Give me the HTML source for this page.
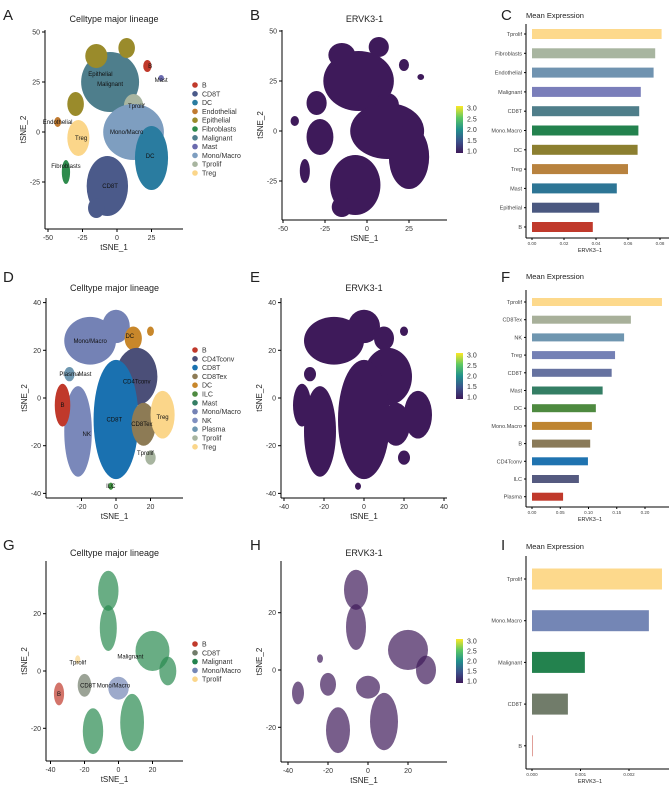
<!DOCTYPE html>
<html><head><meta charset="utf-8">
<style>
body{margin:0;background:#fff;}
svg{display:block;font-family:"Liberation Sans",Arial,sans-serif;}
</style></head>
<body>
<svg id="fig" width="669" height="785" viewBox="0 0 669 785" xmlns="http://www.w3.org/2000/svg"></svg>
<script>
// ---------- Bar chart data ----------
const cCats=["Tprolif","Fibroblasts","Endothelial","Malignant","CD8T","Mono.Macro","DC","Treg","Mast","Epithelial","B"];
const cVals=[0.081,0.077,0.076,0.068,0.067,0.0665,0.066,0.060,0.053,0.042,0.038];
const cColors=["#FDD98C","#A8B5A0","#7093B0","#7A7EBA","#4F7E8A","#23824E","#8C7F30","#B8823E","#2D7595","#4A5880","#C0392B"];
const cTicks=[0,0.02,0.04,0.06,0.08];
const cTickLabels=["0.00","0.02","0.04","0.06","0.08"];

const fCats=["Tprolif","CD8Tex","NK","Treg","CD8T","Mast","DC","Mono.Macro","B","CD4Tconv","ILC","Plasma"];
const fVals=[0.230,0.175,0.163,0.147,0.141,0.125,0.113,0.106,0.103,0.099,0.083,0.055];
const fColors=["#FDD98C","#A8B09A","#6F96B0","#7480B5","#6672A0","#347E64","#4E8A40","#BE8530","#8A7A58","#1F73B0","#555A80","#C0392B"];
const fTicks=[0,0.05,0.10,0.15,0.20];
const fTickLabels=["0.00","0.05","0.10","0.15","0.20"];

const iCats=["Tprolif","Mono.Macro","Malignant","CD8T","B"];
const iVals=[0.00268,0.00241,0.00109,0.00074,0.00001];
const iColors=["#FDD98C","#7486B5","#23824E","#717C6A","#C0392B"];
const iTicks=[0,0.001,0.002];
const iTickLabels=["0.000","0.001","0.002"];

// ---------- Scatter cluster data (data units: cx, cy, rx, ry) ----------
const aNames=["Malignant","Epithelial","Epithelial","Epithelial","B","Mast","Tprolif","Mono/Macro","DC","Treg","Fibroblasts","Endothelial","CD8T","CD8T"];
const aCX=[-5,-15,7,-30,22,32,12,12,25,-28,-37,-43,-7,-15];
const aCY=[25,38,42,14,33,27,13,0,-13,-3,-20,5,-27,-38];
const aRX=[21,8,6,6,3,2,7,22,12,8,3,2.5,15,6];
const aRY=[15,6,5,6,3,1.5,6,14,16,9,6,2.5,15,5];
const aCol=["#4E7E8C","#9A8B2B","#9A8B2B","#9A8B2B","#C0392B","#6A6AAE","#A8B5A0","#7E9EC0","#2A7CA0","#FBD68A","#2E8B4C","#C07A30","#4B5A8A","#4B5A8A"];
const aLegend=["B","CD8T","DC","Endothelial","Epithelial","Fibroblasts","Malignant","Mast","Mono/Macro","Tprolif","Treg"];
const aLegCol=["#C0392B","#4B5A8A","#2A7CA0","#C07A30","#9A8B2B","#2E8B4C","#4E7E8C","#6A6AAE","#7E9EC0","#A8B5A0","#FBD68A"];
const aLabels=["Epithelial","Malignant","Mast","B","Tprolif","Mono/Macro","DC","Treg","Fibroblasts","CD8T","Endothelial"];
const aLX=[-12,-5,32,24,14,7,24,-26,-37,-5,-43];
const aLY=[29,24,26,33,13,0,-12,-3,-17,-27,5];

const dNames=["Mono/Macro","Mono/Macro","NK","DC","Plasma","B","CD4Tconv","CD8T","CD8Tex","Treg","Tprolif","ILC","DC"];
const dCX=[-15,0,-22,10,-27,-31,12,0,16,27,20,-3,20];
const dCY=[24,30,-14,25,10,-3,9,-9,-11,-7,-25,-37,28];
const dRX=[15,8,8,5,3,4.5,12,13,7,7,3,1.5,2];
const dRY=[10,7,19,5,3,9,12,25,9,10,3,1.5,2];
const dCol=["#7482B5","#7482B5","#7A88BA","#C8872B","#6E97B0","#C0392B","#4B4F78","#1A71B0","#8D7B55","#FBD68A","#A8B5A0","#3E8E3E","#C8872B"];
const dLegend=["B","CD4Tconv","CD8T","CD8Tex","DC","ILC","Mast","Mono/Macro","NK","Plasma","Tprolif","Treg"];
const dLegCol=["#C0392B","#4B4F78","#1A71B0","#8D7B55","#C8872B","#4E8A40","#347E64","#7482B5","#8090C0","#6E97B0","#A8B5A0","#FBD68A"];
const dLabels=["Mono/Macro","DC","Plasma","Mast","CD4Tconv","B","Treg","CD8T","CD8Tex","NK","Tprolif","ILC"];
const dLX=[-15,8,-27,-18,12,-31,27,-1,15,-17,17,-3];
const dLY=[24,26,10,10,7,-3,-8,-9,-11,-15,-23,-37];

const gNames=["Malignant","Malignant","Malignant","Malignant","Malignant","Malignant","B","CD8T","Mono/Macro","Tprolif"];
const gCX=[-6,-6,20,29,-15,8,-35,-20,0,-24];
const gCY=[28,15,7,0,-21,-18,-8,-5,-6,4];
const gRX=[6,5,10,5,6,7,3,4,6,1.5];
const gRY=[7,8,7,5,8,10,4,4,4,1.5];
const gCol=["#2A8A50","#2A8A50","#2A8A50","#2A8A50","#2A8A50","#2A8A50","#C0392B","#717C6A","#7486B5","#FBD68A"];
const gLegend=["B","CD8T","Malignant","Mono/Macro","Tprolif"];
const gLegCol=["#C0392B","#717C6A","#23824E","#7486B5","#FBD68A"];
const gLabels=["Tprolif","Malignant","CD8T","Mono/Macro","B"];
const gLX=[-24,7,-18,-3,-35];
const gLY=[3,5,-5,-5,-8];

const svg=document.getElementById('fig');
const NS="http://www.w3.org/2000/svg";
function el(tag,attrs,parent){const e=document.createElementNS(NS,tag);for(const k in attrs)e.setAttribute(k,attrs[k]);(parent||svg).appendChild(e);return e;}
function txt(s,x,y,size,anchor,parent,extra){const t=el('text',Object.assign({x:x,y:y,'font-size':size,'text-anchor':anchor||'start',fill:'#222'},extra||{}),parent);t.textContent=s;return t;}

const letters=[["A",3,20],["B",250,20],["C",501,20],["D",3,282],["E",250,282],["F",501,282],["G",3,550],["H",250,550],["I",501,550]];
letters.forEach(l=>{const t=txt(l[0],l[1],l[2],15,'start');

});

function scatter(o){
  const g=el('g',{});
  
  
  const sx=v=>o.x0+(v-o.xv0)*o.xs, sy=v=>o.y0-(v-o.yv0)*o.ys;
  for(let i=0;i<o.cx.length;i++){
    const e=el('ellipse',{cx:sx(o.cx[i]),cy:sy(o.cy[i]),rx:o.rx[i]*o.xs,ry:o.ry[i]*o.ys,fill:o.mono||o.col[i],opacity:o.op||1},g);
    
    
  }
  el('line',{x1:o.ax,y1:o.ytop,x2:o.ax,y2:o.ay,stroke:'#000','stroke-width':1},g);
  el('line',{x1:o.ax,y1:o.ay,x2:o.xright,y2:o.ay,stroke:'#000','stroke-width':1},g);
  o.xt.forEach(v=>{el('line',{x1:sx(v),y1:o.ay,x2:sx(v),y2:o.ay+3,stroke:'#000'},g);
    txt(String(v),sx(v),o.ay+11,7,'middle',g,{fill:'#333'});});
  o.yt.forEach(v=>{el('line',{x1:o.ax-3,y1:sy(v),x2:o.ax,y2:sy(v),stroke:'#000'},g);
    txt(String(v),o.ax-5,sy(v)+2.5,7,'end',g,{fill:'#333'});});
  const xt=txt('tSNE_1',(o.ax+o.xright)/2,o.ay+21,8,'middle',g);
  
  const yt=txt('tSNE_2',0,0,8,'middle',g,{transform:`translate(${o.ax-19},${(o.ytop+o.ay)/2}) rotate(-90)`});
  
  const tt=txt(o.title,(o.ax+o.xright)/2,o.titleY,9,'middle',g);
  
  if(o.labels){o.labels.forEach((s,i)=>txt(s,sx(o.lx[i]),sy(o.ly[i])+2,6,'middle',g,{fill:'#111'}));}
  if(o.legend){o.legend.forEach((s,i)=>{
    const y=o.legY+i*8.8;
    const c=el('circle',{cx:o.legX,cy:y,r:2.8,fill:o.legCol[i]},g);
    
    txt(s,o.legX+7,y+2.5,7,'start',g,{fill:'#333'});});}
  if(o.cbar){
    const id='vg'+o.name;
    const d=el('defs',{},g);const lg=el('linearGradient',{id:id,x1:0,y1:1,x2:0,y2:0},d);
    [["0","#3E1A5A"],["0.25","#3B528B"],["0.5","#21908C"],["0.75","#5DC863"],["1","#FDE725"]].forEach(s=>el('stop',{offset:s[0],'stop-color':s[1]},lg));
    const r=el('rect',{x:o.cbar[0],y:o.cbar[1],width:7,height:o.cbar[2],fill:`url(#${id})`},g);
    
    ["3.0","2.5","2.0","1.5","1.0"].forEach((s,i)=>txt(s,o.cbar[0]+11,o.cbar[1]+2+i*(o.cbar[2]-4)/4+2.5,7,'start',g,{fill:'#333'}));
  }
}

scatter({name:'scatter-a',names:aNames,cx:aCX,cy:aCY,rx:aRX,ry:aRY,col:aCol,x0:117,xv0:0,xs:34.5/25,y0:132,yv0:0,ys:50/25,
 ax:45,ay:229,ytop:30,xright:183,xt:[-50,-25,0,25],yt:[50,25,0,-25],title:'Celltype major lineage',titleY:22,
 labels:aLabels,lx:aLX,ly:aLY,legend:aLegend,legCol:aLegCol,legX:195,legY:85});
scatter({name:'scatter-b',names:aNames,cx:aCX,cy:aCY,rx:aRX,ry:aRY,col:aCol,mono:'#3E1A5A',x0:367,xv0:0,xs:42/25,y0:131,yv0:0,ys:50/25,
 ax:282,ay:220,ytop:30,xright:447,xt:[-50,-25,0,25],yt:[50,25,0,-25],title:'ERVK3-1',titleY:22,cbar:[456,106,47]});
scatter({name:'scatter-d',names:dNames,cx:dCX,cy:dCY,rx:dRX,ry:dRY,col:dCol,x0:116,xv0:0,xs:34.5/20,y0:398,yv0:0,ys:47.7/20,
 ax:46,ay:498,ytop:298,xright:183,xt:[-20,0,20],yt:[40,20,0,-20,-40],title:'Celltype major lineage',titleY:291,
 labels:dLabels,lx:dLX,ly:dLY,legend:dLegend,legCol:dLegCol,legX:195,legY:350});
scatter({name:'scatter-e',names:dNames,cx:dCX,cy:dCY,rx:dRX,ry:dRY,col:dCol,mono:'#3E1A5A',x0:364,xv0:0,xs:40/20,y0:398,yv0:0,ys:47.7/20,
 ax:281,ay:498,ytop:298,xright:447,xt:[-40,-20,0,20,40],yt:[40,20,0,-20,-40],title:'ERVK3-1',titleY:291,cbar:[456,353,46]});
scatter({name:'scatter-g',names:gNames,cx:gCX,cy:gCY,rx:gRX,ry:gRY,col:gCol,op:0.7,x0:118.5,xv0:0,xs:34/20,y0:671,yv0:0,ys:57.3/20,
 ax:46,ay:761,ytop:561,xright:183,xt:[-40,-20,0,20],yt:[20,0,-20],title:'Celltype major lineage',titleY:556,
 labels:gLabels,lx:gLX,ly:gLY,legend:gLegend,legCol:gLegCol,legX:195,legY:644});
scatter({name:'scatter-h',names:gNames,cx:gCX,cy:gCY,rx:gRX,ry:gRY,col:gCol,mono:'#3E1A5A',op:0.7,x0:368,xv0:0,xs:40/20,y0:670,yv0:0,ys:57.3/20,
 ax:281,ay:762,ytop:561,xright:447,xt:[-40,-20,0,20],yt:[20,0,-20],title:'ERVK3-1',titleY:556,cbar:[456,639,44]});

function bars(o){
  const g=el('g',{});
  
  
  const sx=v=>o.x0+v/o.maxTick*(o.xMaxPx-o.x0);
  const t=txt('Mean Expression',o.axisX,o.titleY,7.5,'start',g);
  
  el('line',{x1:o.axisX,y1:o.ytop,x2:o.axisX,y2:o.ay,stroke:'#000'},g);
  el('line',{x1:o.axisX,y1:o.ay,x2:669,y2:o.ay,stroke:'#000'},g);
  o.cats.forEach((c,i)=>{
    const y=o.y0+i*o.step;
    const r=el('rect',{x:o.x0,y:y-o.bh/2,width:Math.max(0.3,sx(o.vals[i])-o.x0),height:o.bh,fill:o.cols[i]},g);
    
    
    el('line',{x1:o.axisX-2,y1:y,x2:o.axisX,y2:y,stroke:'#000'},g);
    txt(c,o.axisX-4,y+2,5.5,'end',g,{fill:'#444'});
  });
  o.ticks.forEach((v,i)=>{el('line',{x1:sx(v),y1:o.ay,x2:sx(v),y2:o.ay+2,stroke:'#000'},g);
    txt(o.tickLabels[i],sx(v),o.ay+7,4.5,'middle',g,{fill:'#444'});});
  const xl=txt('ERVK3−1',(o.x0+660)/2-6,o.ay+14,5.5,'middle',g);
  
}
bars({name:'bar-chart-c',cats:cCats,vals:cVals,cols:cColors,ticks:cTicks,tickLabels:cTickLabels,maxTick:0.08,
 x0:532,xMaxPx:660,axisX:526,titleY:18,ytop:24,ay:238,y0:34,step:19.3,bh:10});
bars({name:'bar-chart-f',cats:fCats,vals:fVals,cols:fColors,ticks:fTicks,tickLabels:fTickLabels,maxTick:0.20,
 x0:532,xMaxPx:645,axisX:526,titleY:279,ytop:290,ay:507,y0:302,step:17.7,bh:8});
bars({name:'bar-chart-i',cats:iCats,vals:iVals,cols:iColors,ticks:iTicks,tickLabels:iTickLabels,maxTick:0.002,
 x0:532,xMaxPx:629,axisX:526,titleY:549,ytop:556,ay:769,y0:579,step:41.7,bh:21});
</script>
</body></html>
